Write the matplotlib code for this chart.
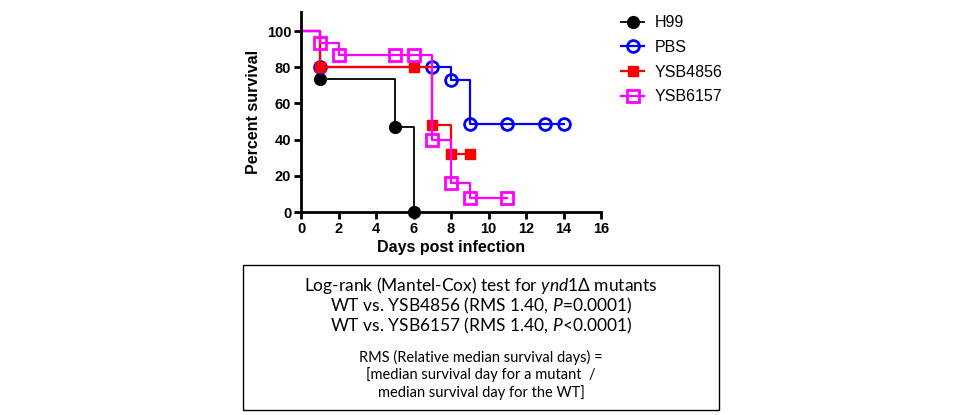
import matplotlib
matplotlib.use("Agg")
import matplotlib.pyplot as plt
from matplotlib.patches import Rectangle

plt.rcParams["font.family"] = ["Liberation Sans", "DejaVu Sans"]
plt.rcParams["mathtext.fontset"] = "custom"
plt.rcParams["mathtext.rm"] = "Lato"
plt.rcParams["mathtext.it"] = "Lato:italic"

# survival data (day, percent)
h99_days = [0, 1, 5, 6]
h99_surv = [100, 73.3, 46.7, 0]
pbs_days = [0, 1, 7, 8, 9, 11, 13, 14]
pbs_surv = [100, 80, 80, 72.7, 48.5, 48.5, 48.5, 48.5]
ysb4856_days = [0, 1, 6, 7, 8, 9]
ysb4856_surv = [100, 80, 80, 48, 32, 32]
ysb6157_days = [0, 1, 2, 5, 6, 7, 8, 9, 11]
ysb6157_surv = [100, 93.3, 86.7, 86.7, 86.7, 39.7, 15.9, 7.9, 7.9]

W, H = 960, 415
fig = plt.figure(figsize=(W / 100, H / 100), dpi=100)
ax = fig.add_axes([301 / W, 1 - 212 / H, 300 / W, 200 / H])

ax.plot(h99_days, h99_surv, drawstyle="steps-post", color="black", lw=1.3,
        marker="o", ms=8.5, markevery=slice(1, None), clip_on=False, label="H99")
ax.plot(pbs_days, pbs_surv, drawstyle="steps-post", color="#0000ff", lw=1.6,
        marker="o", ms=8.5, mfc="none", mew=2, markevery=slice(1, None),
        clip_on=False, label="PBS")
ax.plot(ysb4856_days, ysb4856_surv, drawstyle="steps-post", color="#ff0000", lw=1.6,
        marker="s", ms=7.5, markevery=slice(1, None), clip_on=False, label="YSB4856")
ax.plot(ysb6157_days, ysb6157_surv, drawstyle="steps-post", color="#ff00ff", lw=1.6,
        marker="s", ms=8, mfc="none", mew=2, markevery=slice(1, None),
        clip_on=False, label="YSB6157")

ax.set_xlim(0, 16)
ax.set_ylim(0, 110.5)
ax.set_xticks(range(0, 17, 2))
ax.set_yticks(range(0, 101, 20))
for s in ["top", "right"]:
    ax.spines[s].set_visible(False)
for s in ["left", "bottom"]:
    ax.spines[s].set_linewidth(2)
ax.tick_params(width=2, length=5, labelsize=10.5, pad=2)
for lab in ax.get_xticklabels() + ax.get_yticklabels():
    lab.set_fontweight("bold")
ax.set_xlabel("Days post infection", fontsize=11.5, fontweight="bold", labelpad=3)
ax.set_ylabel("Percent survival", fontsize=11.5, fontweight="bold", labelpad=4)

ax.legend(loc="upper left", bbox_to_anchor=(607 / W, 1 - 1 / H),
          bbox_transform=fig.transFigure, frameon=False, fontsize=11.5,
          handlelength=1.4, handletextpad=0.7, labelspacing=0.6)

# text box under the chart
fig.add_artist(Rectangle((243 / W, 1 - 410 / H), 476 / W, 145 / H,
                         transform=fig.transFigure, fill=False, lw=1, ec="black"))
cx = 481 / W
big = dict(ha="center", va="center", fontsize=12.5, family=["Lato", "DejaVu Sans"])
small = dict(ha="center", va="center", fontsize=10.5, family=["Lato", "DejaVu Sans"])
fig.text(cx, 1 - 285 / H, r"Log-rank (Mantel-Cox) test for $\mathit{ynd1}$Δ mutants", **big)
fig.text(cx, 1 - 306 / H, r"WT vs. YSB4856 (RMS 1.40, $\mathit{P}$=0.0001)", **big)
fig.text(cx, 1 - 326 / H, r"WT vs. YSB6157 (RMS 1.40, $\mathit{P}$<0.0001)", **big)
fig.text(cx, 1 - 357 / H, "RMS (Relative median survival days) =", **small)
fig.text(cx, 1 - 375 / H, "[median survival day for a mutant  /", **small)
fig.text(cx, 1 - 393 / H, "median survival day for the WT]", **small)

fig.savefig("out.png", dpi=100)
